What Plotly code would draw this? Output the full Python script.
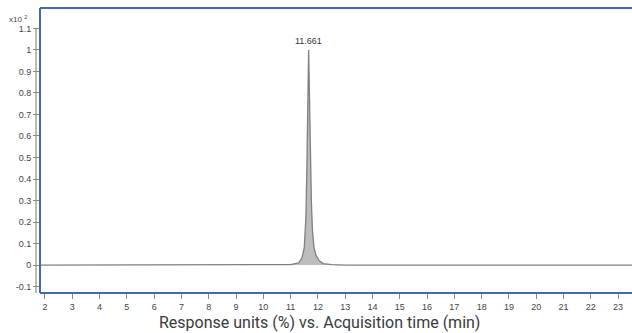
import plotly.graph_objects as go

# Chromatogram points (time in min, response x10^2 %)
time_min = [1.82, 4.0, 6.0, 8.0, 10.0, 10.5, 11.0, 11.3, 11.42, 11.5, 11.56, 11.6, 11.63,
            11.661, 11.69, 11.72, 11.76, 11.8, 11.86, 11.93, 12.05, 12.2, 12.5, 13.0,
            16.0, 20.0, 23.6]
response = [0.0, 0.0, 0.0, 0.0, 0.0, 0.0, 0.002, 0.01, 0.035, 0.08, 0.22, 0.48, 0.8,
            1.0, 0.8, 0.52, 0.3, 0.16, 0.08, 0.045, 0.02, 0.007, 0.002, 0.0,
            0.0, 0.0, 0.0]

peak_time = 11.661
peak_label = "11.661"
x_ticks = list(range(2, 24))
y_ticks = [-0.1, 0, 0.1, 0.2, 0.3, 0.4, 0.5, 0.6, 0.7, 0.8, 0.9, 1, 1.1]
y_tick_text = ["-0.1", "0", "0.1", "0.2", "0.3", "0.4", "0.5", "0.6", "0.7", "0.8", "0.9", "1", "1.1"]
x_title = "Response units (%) vs. Acquisition time (min)"

W, H = 632, 333
L, R, T, B = 40, 0, 8, 40
pw = W - L - R
ph = H - T - B

fig = go.Figure()
fig.add_trace(go.Scatter(
    x=time_min, y=response, mode="lines",
    line=dict(color="#808080", width=1.3),
    fill="tozeroy", fillcolor="#bdbdbd",
    hoverinfo="skip", showlegend=False,
))

tick_font = dict(family="Liberation Sans, Arial, sans-serif", size=9, color="#444444")

fig.update_layout(
    width=W, height=H,
    margin=dict(l=L, r=R, t=T, b=B),
    paper_bgcolor="white", plot_bgcolor="white",
    xaxis=dict(
        range=[1.817, 23.51], tickvals=x_ticks, ticktext=[str(v) for v in x_ticks],
        ticks="outside", ticklen=5, tickcolor="#888888", tickwidth=1,
        showgrid=False, zeroline=False, showline=False,
        tickfont=tick_font, fixedrange=True,
    ),
    yaxis=dict(
        range=[-0.130, 1.195], tickvals=y_ticks, ticktext=y_tick_text,
        ticks="outside", ticklen=6, tickcolor="#888888", tickwidth=1,
        showgrid=False, zeroline=False, showline=False,
        tickfont=tick_font, fixedrange=True,
    ),
    shapes=[
        dict(type="line", xref="paper", yref="y", x0=-4 / pw, x1=-4 / pw,
             y0=1.1, y1=-0.130, line=dict(color="#8c8c8c", width=1.2)),
        dict(type="line", xref="paper", yref="paper", x0=0, x1=0, y0=0, y1=1,
             line=dict(color="#4169b4", width=2)),
        dict(type="line", xref="paper", yref="paper", x0=0, x1=1, y0=1, y1=1,
             line=dict(color="#4169b4", width=2)),
        dict(type="line", xref="paper", yref="paper", x0=0, x1=1, y0=0, y1=0,
             line=dict(color="#4169b4", width=2)),
    ],
    annotations=[
        dict(x=peak_time, y=1.0, xref="x", yref="y", text=peak_label, showarrow=False,
             yanchor="bottom", yshift=2,
             font=dict(family="Liberation Sans, Arial, sans-serif", size=9, color="#333333")),
        dict(x=(319 - L) / pw, y=(H - B - 322) / ph, xref="paper", yref="paper", text=x_title,
             showarrow=False, xanchor="center", yanchor="middle",
             font=dict(family="Roboto, sans-serif", size=16, color="#3a3a3a")),
        dict(x=(7 - L) / pw, y=1 - (19 - T) / ph, xref="paper", yref="paper",
             text="x10 <sup>2</sup>", showarrow=False, xanchor="left", yanchor="middle",
             font=dict(family="Liberation Sans, Arial, sans-serif", size=8, color="#444444")),
    ],
)

fig.write_html("out.html", config={"displayModeBar": False},
               post_script="document.body.style.margin='0';document.body.style.overflow='hidden';")
